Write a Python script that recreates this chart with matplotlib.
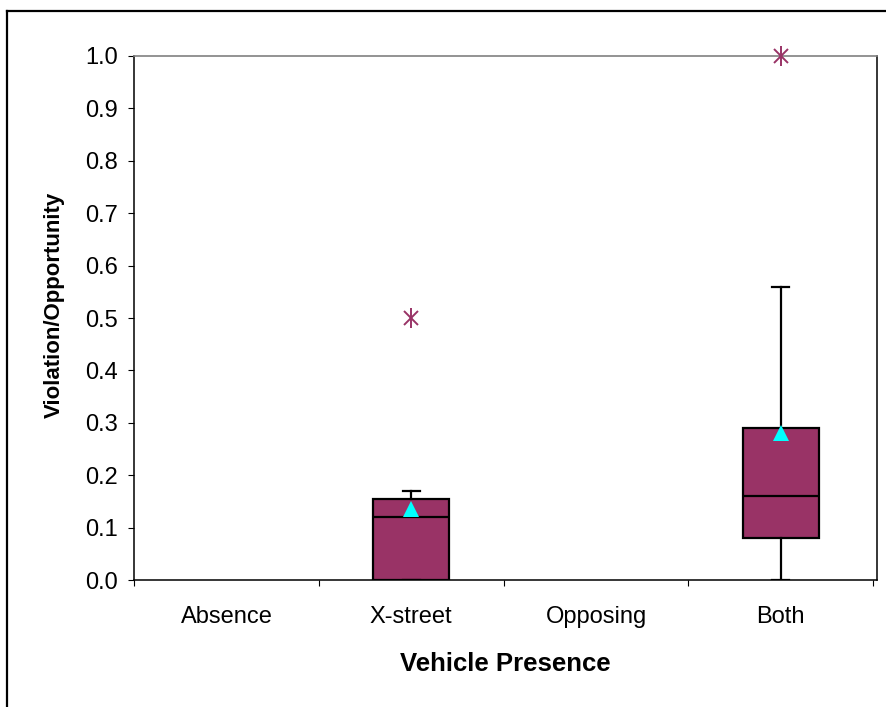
import matplotlib.pyplot as plt
from matplotlib.lines import Line2D

plt.rcParams["font.family"] = ["Liberation Sans", "DejaVu Sans"]

# box statistics
categories = ["Absence", "X-street", "Opposing", "Both"]
q1_vals = [None, 0.0, None, 0.08]
median_vals = [None, 0.12, None, 0.16]
q3_vals = [None, 0.155, None, 0.29]
whisker_low = [None, 0.0, None, 0.0]
whisker_high = [None, 0.17, None, 0.56]
mean_vals = [None, 0.135, None, 0.28]
outlier_vals = [[], [0.5], [], [1.0]]

y_ticks = [0.0, 0.1, 0.2, 0.3, 0.4, 0.5, 0.6, 0.7, 0.8, 0.9, 1.0]

BOX_COLOR = "#993366"
MEAN_COLOR = "#00FFFF"

fig = plt.figure(figsize=(8.87, 7.07), dpi=100)
ax = fig.add_axes([0.1511, 0.1796, 0.8376, 0.7412])

# figure border (runs off the right and bottom edges)
fig.add_artist(Line2D([7 / 887, 7 / 887], [0, 1 - 11 / 707],
                      transform=fig.transFigure, color="black", lw=1.6))
fig.add_artist(Line2D([7 / 887, 1], [1 - 11 / 707, 1 - 11 / 707],
                      transform=fig.transFigure, color="black", lw=1.6))

stats = []
positions = []
for i, name in enumerate(categories):
    if q1_vals[i] is None:
        continue
    stats.append({
        "label": name,
        "q1": q1_vals[i],
        "med": median_vals[i],
        "q3": q3_vals[i],
        "whislo": whisker_low[i],
        "whishi": whisker_high[i],
        "fliers": [],
    })
    positions.append(i)

ax.bxp(
    stats,
    positions=positions,
    widths=0.41,
    capwidths=0.092,
    patch_artist=True,
    showfliers=False,
    boxprops=dict(facecolor=BOX_COLOR, edgecolor="black", linewidth=1.6),
    medianprops=dict(color="black", linewidth=1.6),
    whiskerprops=dict(color="black", linewidth=1.6),
    capprops=dict(color="black", linewidth=1.6),
    zorder=3,
)

for i, pts in enumerate(outlier_vals):
    for v in pts:
        ax.plot(i, v, marker="x", color=BOX_COLOR, markersize=10,
                markeredgewidth=1.4, clip_on=False, zorder=5)
        ax.plot(i, v, marker="|", color=BOX_COLOR, markersize=14,
                markeredgewidth=1.4, clip_on=False, zorder=5)

for i, m in enumerate(mean_vals):
    if m is None:
        continue
    ax.plot(i, m, marker="^", color=MEAN_COLOR, markersize=12,
            markeredgewidth=0, linestyle="none", zorder=6)

ax.set_xlim(-0.5, 3.52)
ax.set_ylim(0, 1.0)
ax.set_yticks(y_ticks)
ax.set_yticklabels([f"{t:.1f}" for t in y_ticks])
ax.set_xticks([-0.5, 0.5, 1.5, 2.5, 3.5])
ax.set_xticklabels([])
ax.set_xticks(range(len(categories)), minor=True)
ax.set_xticklabels(categories, minor=True)
ax.tick_params(axis="x", which="minor", length=0, pad=19, labelsize=17)
ax.tick_params(axis="x", which="major", length=4.5, direction="out")
ax.tick_params(axis="y", length=4.5, direction="out", labelsize=17, pad=7)

ax.spines["top"].set_color("#808080")
ax.spines["top"].set_linewidth(1.2)
for s in ["left", "bottom", "right"]:
    ax.spines[s].set_color("black")
    ax.spines[s].set_linewidth(1.1)

ax.set_xlabel("Vehicle Presence", fontsize=18.5, fontweight="bold", labelpad=17)
ax.set_ylabel("Violation/Opportunity", fontsize=16, fontweight="bold", labelpad=15)
ax.yaxis.label.set_y(0.525)

fig.savefig("out.png", dpi=100)
